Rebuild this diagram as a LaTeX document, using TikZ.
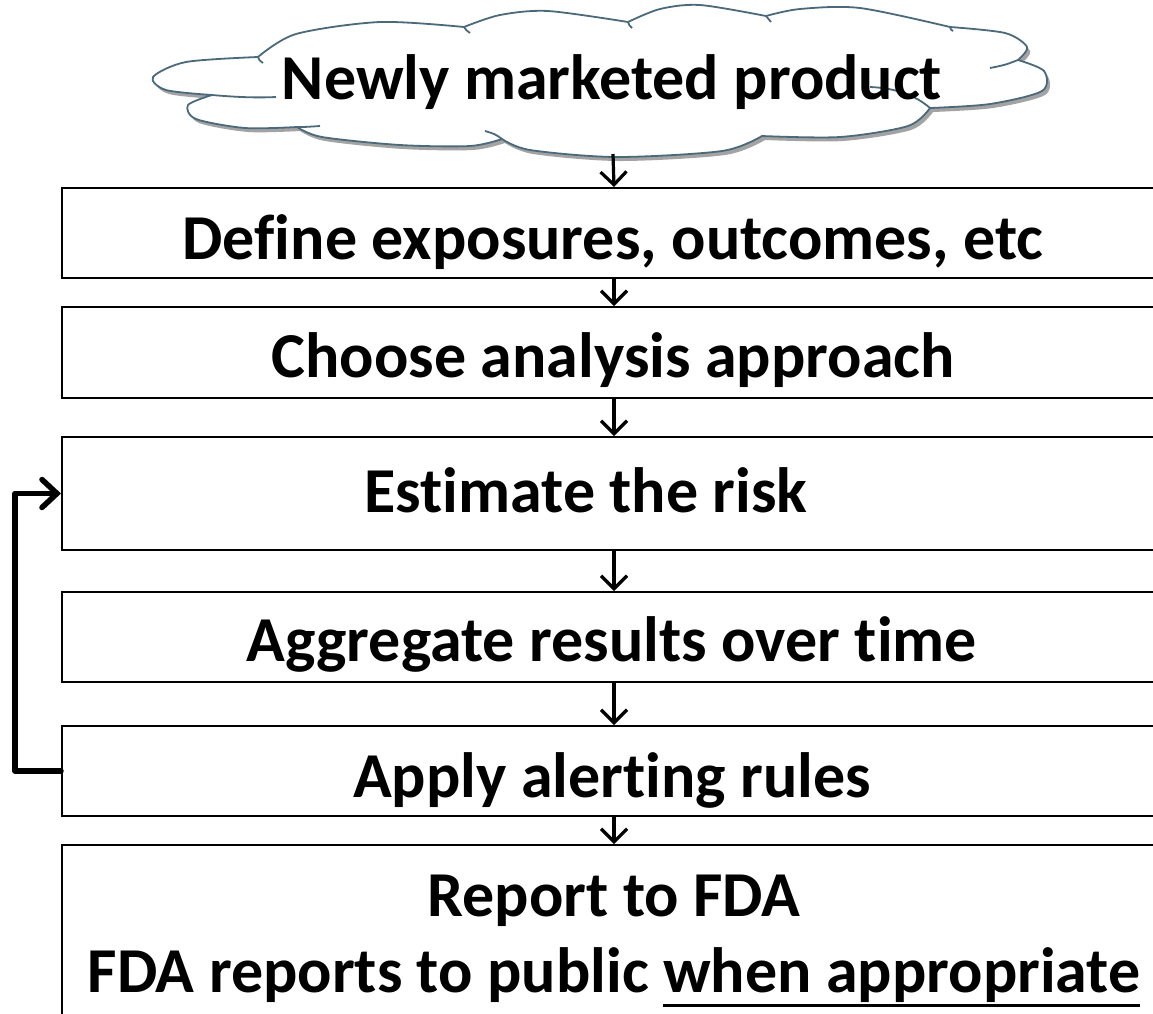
\documentclass[tikz,border=0pt]{standalone}
\usepackage{fontspec}
\setmainfont{Carlito}[Ligatures=CommonOff]
\usetikzlibrary{arrows.meta}

\definecolor{cloudline}{HTML}{4A6A7C}
\definecolor{cloudshade}{HTML}{A3A3A3}

% underline drawn as a rule just below the descenders
\newcommand\underlinetext[1]{\setbox0\hbox{#1}\rlap{\rule[-0.24em]{\wd0}{0.05em}}\box0}

% outline of the cloud, lobe by lobe
\newcommand\cloudoutline{
  plot[smooth] coordinates {(258,57) (296,34) (380,22) (464,27)}
  -- plot[smooth] coordinates {(464,27) (500,15) (548,11) (628,22)}
  -- plot[smooth] coordinates {(628,22) (660,9) (700,5) (766,16)}
  -- plot[smooth] coordinates {(766,16) (800,9) (860,8) (950,27)}
  -- plot[smooth] coordinates {(950,27) (1005,33) (1027,47) (1018,60)}
  -- plot[smooth] coordinates {(1018,60) (1044,71) (1042,91) (990,104) (930,108)}
  -- plot[smooth] coordinates {(930,108) (908,126) (840,137) (762,136)}
  -- plot[smooth] coordinates {(762,136) (722,151) (616,157) (530,150) (502,139)}
  -- plot[smooth] coordinates {(502,139) (470,146) (400,145) (322,137) (297,127)}
  -- plot[smooth] coordinates {(297,127) (245,128) (196,119) (188,105) (212,95)}
  -- plot[smooth] coordinates {(212,95) (166,90) (153,77) (186,62) (258,57)}
  -- cycle}

\tikzset{
  stepbox/.style={draw=black, line width=2pt, fill=white, anchor=north west,
    minimum width=1104pt, inner sep=0pt},
  steptext/.style={anchor=base, font=\fontsize{64}{78}\selectfont\bfseries, inner sep=0pt},
  cloudedge/.style={draw=cloudline, line width=1.8pt, line join=round},
  flowarrow/.style={draw=black, line width=3.2pt,
    -{Straight Barb[length=13pt,width=26pt,line width=3.2pt]}},
  looparrow/.style={draw=black, line width=5.5pt, line join=round, line cap=round,
    -{Straight Barb[length=15pt,width=28pt,line width=5.5pt,line cap=round]}},
}

\begin{document}
\begin{tikzpicture}[x=1pt,y=-1pt]
\useasboundingbox (0,0) rectangle (1153,1013);
\fill[white] (0,0) rectangle (1153,1013);
\clip (0,0) rectangle (1153,1013);

% cloud at the top, with its shadow and inner hint strokes
\fill[cloudshade, shift={(3,4)}] \cloudoutline;
\filldraw[cloudedge, fill=white] \cloudoutline;
\draw[cloudedge] (212,95) .. controls (235,97) and (255,98) .. (276,97);
\draw[cloudedge] (258,57) .. controls (259,60) .. (263,63);
\draw[cloudedge] (297,127) .. controls (305,127) .. (320,126);
\draw[cloudedge] (464,27) .. controls (466,30) .. (470,33);
\draw[cloudedge] (628,22) .. controls (629,25) .. (632,28);
\draw[cloudedge] (766,16) .. controls (768,19) .. (771,22);
\draw[cloudedge] (950,27) .. controls (951,30) .. (953,31);
\draw[cloudedge] (1018,60) .. controls (1005,65) .. (990,68);
\draw[cloudedge] (930,108) .. controls (915,95) and (895,88) .. (870,87);
\draw[cloudedge] (502,139) .. controls (495,134) .. (485,131);
\coordinate (cloudbottom) at (613,154);

\node[steptext] (cloudtext) at (612,99) {Newly marketed product};

% process boxes
\node[stepbox, minimum height=90pt]  (define)    at (61,187) {};
\node[stepbox, minimum height=91pt]  (choose)    at (61,306) {};
\node[stepbox, minimum height=113pt] (estimate)  at (61,436) {};
\node[stepbox, minimum height=90pt]  (aggregate) at (61,591) {};
\node[stepbox, minimum height=90pt]  (apply)     at (61,725) {};
\node[stepbox, minimum height=190pt] (report)    at (61,844) {};

% box labels
\node[steptext] (t1) at (613,259) {Define exposures, outcomes, etc};
\node[steptext] (t2) at (613,377) {Choose analysis approach};
\node[steptext] (t3) at (586,512) {Estimate the risk};
\node[steptext] (t4) at (612,661) {Aggregate results over time};
\node[steptext] (t5) at (612,797) {Apply alerting rules};
\node[steptext] (t6) at (614,916) {Report to FDA};
\node[steptext] (t7) at (614,992) {FDA reports to public \underlinetext{when appropriate}};

% downward flow
\draw[flowarrow] (cloudbottom)     -- (define.north);
\draw[flowarrow] (define.south)    -- (choose.north);
\draw[flowarrow] (choose.south)    -- (estimate.north);
\draw[flowarrow] (estimate.south)  -- (aggregate.north);
\draw[flowarrow] (aggregate.south) -- (apply.north);
\draw[flowarrow] (apply.south)     -- (report.north);

% feedback loop from the alerting rules back to the estimation step
\draw[looparrow] (apply.west) -- ++(-46,0) |- (estimate.west);
\end{tikzpicture}
\end{document}
